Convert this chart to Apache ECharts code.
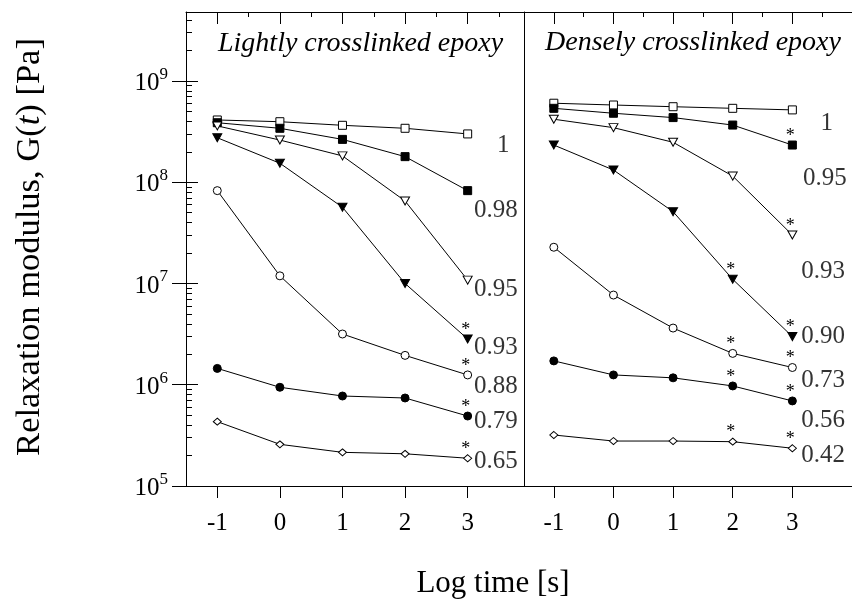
<!DOCTYPE html>
<html><head><meta charset="utf-8">
<script src="https://cdn.jsdelivr.net/npm/echarts@6/dist/echarts.min.js"></script>
<style>html,body{margin:0;padding:0;background:#fff}#c{width:852px;height:602px}</style>
</head><body><div id="c"></div>
<script>
// ---------- data ----------
const logTimes = [-1, 0, 1, 2, 3];
const yTickValues = [1e5, 1e6, 1e7, 1e8, 1e9];
const xTickValues = [-1, 0, 1, 2, 3];

const lightNames = ['1', '0.98', '0.95', '0.93', '0.88', '0.79', '0.65'];
const light_1    = [4.12e8, 3.96e8, 3.65e8, 3.41e8, 3.00e8];
const light_098  = [3.87e8, 3.41e8, 2.65e8, 1.79e8, 8.26e7];
const light_095  = [3.60e8, 2.61e8, 1.82e8, 6.53e7, 1.08e7];
const light_093  = [2.75e8, 1.54e8, 5.66e7, 1.00e7, 2.83e6];
const light_088  = [8.26e7, 1.19e7, 3.17e6, 1.95e6, 1.25e6];
const light_079  = [1.45e6, 9.44e5, 7.74e5, 7.40e5, 4.91e5];
const light_065  = [4.32e5, 2.58e5, 2.15e5, 2.08e5, 1.88e5];
const lightStars = [[], [], [], [4], [4], [4], [4]];

const denseNames = ['1', '0.95', '0.93', '0.90', '0.73', '0.56', '0.42'];
const dense_1    = [6.03e8, 5.79e8, 5.57e8, 5.37e8, 5.18e8];
const dense_095  = [5.37e8, 4.80e8, 4.35e8, 3.67e8, 2.33e8];
const dense_093  = [4.19e8, 3.46e8, 2.48e8, 1.15e8, 3.01e7];
const dense_090  = [2.33e8, 1.32e8, 5.12e7, 1.10e7, 2.99e6];
const dense_073  = [2.28e7, 7.69e6, 3.63e6, 2.04e6, 1.48e6];
const dense_056  = [1.72e6, 1.25e6, 1.17e6, 9.73e5, 6.92e5];
const dense_042  = [3.19e5, 2.78e5, 2.78e5, 2.74e5, 2.36e5];
const denseStars = [[], [4], [4], [3, 4], [3, 4], [3, 4], [3, 4]];

// curve-label anchors (data units)
const lightLabelX = [3.47, 3.1, 3.1, 3.1, 3.1, 3.1, 3.1];
const lightLabelG = [2.30e8, 5.32e7, 8.83e6, 2.31e6, 9.55e5, 4.32e5, 1.74e5];
const denseLabelX = [3.47, 3.18, 3.15, 3.15, 3.15, 3.15, 3.15];
const denseLabelG = [3.82e8, 1.09e8, 1.31e7, 2.99e6, 1.11e6, 4.49e5, 2.02e5];

const lightSeries = [light_1, light_098, light_095, light_093, light_088, light_079, light_065];
const denseSeries = [dense_1, dense_095, dense_093, dense_090, dense_073, dense_056, dense_042];

// ---------- styles ----------
const FONT = "'Liberation Serif', 'Times New Roman', serif";
const symbols = ['rect', 'rect', 'triangle', 'triangle', 'circle', 'circle', 'diamond'];
const filled  = [false, true, false, true, false, true, false];
const rotates = [0, 0, 180, 180, 0, 0, 0];
const sizes   = [8, 8, [9, 8], [9, 8], 8, 8, [8, 7]];

const minorY = [];
for (let e = 5; e <= 9; e++) for (let m = 2; m <= 9; m++) { const v = m * Math.pow(10, e); if (v <= 4.8e9) minorY.push(v); }

function xAxes(grid, max) {
  const base = { gridIndex: grid, type: 'value', min: -1.5, max: max, splitLine: { show: false } };
  return [
    Object.assign({}, base, {
      axisLine: { show: true, onZero: false, lineStyle: { color: '#000', width: 1 } },
      axisTick: { show: true, inside: false, length: 12, customValues: xTickValues, lineStyle: { color: '#000' } },
      axisLabel: { show: true, customValues: xTickValues, margin: 25, color: '#000', fontSize: 25, fontFamily: FONT }
    }),
    Object.assign({}, base, {
      axisLine: { show: false, onZero: false },
      axisTick: { show: true, inside: true, length: 12, customValues: xTickValues, lineStyle: { color: '#000' } },
      axisLabel: { show: false }
    }),
    Object.assign({}, base, {
      axisLine: { show: false, onZero: false },
      axisTick: { show: true, inside: true, length: 5, customValues: [-0.5, 0.5, 1.5, 2.5, 3.5], lineStyle: { color: '#000' } },
      axisLabel: { show: false }
    }),
    Object.assign({}, base, {
      position: 'top',
      axisLine: { show: true, onZero: false, lineStyle: { color: '#000', width: 1 } },
      axisTick: { show: false }, axisLabel: { show: false }
    })
  ];
}

const yBase = (grid) => ({ gridIndex: grid, type: 'log', logBase: 10, min: 1e5, max: 4.8e9, position: 'left', splitLine: { show: false } });
const yAxis = [
  Object.assign(yBase(0), {
    axisLine: { show: true, onZero: false, lineStyle: { color: '#000', width: 1 } },
    axisTick: { show: true, inside: false, length: 14, customValues: yTickValues, lineStyle: { color: '#000' } },
    axisLabel: {
      show: true, customValues: yTickValues, margin: 18, color: '#000',
      formatter: v => '{b|10}{s|' + Math.round(Math.log10(v)) + '}',
      rich: {
        b: { fontSize: 25, fontFamily: FONT, color: '#000', verticalAlign: 'bottom', lineHeight: 30 },
        s: { fontSize: 17, fontFamily: FONT, color: '#000', verticalAlign: 'top', lineHeight: 30 }
      }
    }
  }),
  Object.assign(yBase(0), {
    axisLine: { show: false, onZero: false },
    axisTick: { show: true, inside: true, length: 12, customValues: yTickValues, lineStyle: { color: '#000' } },
    axisLabel: { show: false }
  }),
  Object.assign(yBase(0), {
    axisLine: { show: false, onZero: false },
    axisTick: { show: true, inside: true, length: 6, customValues: minorY, lineStyle: { color: '#000' } },
    axisLabel: { show: false }
  }),
  Object.assign(yBase(1), {
    axisLine: { show: true, onZero: false, lineStyle: { color: '#000', width: 1 } },
    axisTick: { show: false }, axisLabel: { show: false }
  })
];

function buildSeries(list, names, stars, xIdx, yIdx) {
  return list.map((vals, i) => ({
    name: names[i],
    type: 'line',
    xAxisIndex: xIdx, yAxisIndex: yIdx,
    symbol: symbols[i], symbolSize: sizes[i], symbolRotate: rotates[i],
    showAllSymbol: true, silent: true, animation: false,
    lineStyle: { color: '#000', width: 1 },
    itemStyle: { color: filled[i] ? '#000' : '#fff', borderColor: '#000', borderWidth: 1 },
    emphasis: { disabled: true },
    z: 3,
    data: vals.map((g, j) => {
      const item = { value: [logTimes[j], g] };
      if (stars[i].indexOf(j) >= 0) {
        item.label = { show: true, formatter: '*', position: 'inside', offset: [-2, -9],
          fontSize: 18, fontFamily: FONT, color: '#000' };
      }
      return item;
    })
  }));
}

function labelSeries(names, xs, gs, xIdx, yIdx) {
  return {
    type: 'scatter', xAxisIndex: xIdx, yAxisIndex: yIdx, silent: true, animation: false,
    symbol: 'circle', symbolSize: 0, itemStyle: { color: 'rgba(0,0,0,0)' },
    label: { show: true, position: 'right', distance: 0, formatter: p => p.data[2],
      fontSize: 25, fontFamily: FONT, color: '#000' },
    emphasis: { disabled: true },
    data: names.map((n, i) => [xs[i], gs[i], n])
  };
}

const chart = echarts.init(document.getElementById('c'), null, { renderer: 'canvas' });
chart.setOption({
  animation: false,
  backgroundColor: '#fff',
  grid: [
    { left: 186, top: 12, width: 338, height: 474, containLabel: false },
    { left: 524, top: 12, width: 342, height: 474, containLabel: false }
  ],
  xAxis: xAxes(0, 3.9).concat(xAxes(1, 4)),
  yAxis: yAxis,
  series: buildSeries(lightSeries, lightNames, lightStars, 0, 0)
    .concat(buildSeries(denseSeries, denseNames, denseStars, 4, 3))
    .concat([labelSeries(lightNames, lightLabelX, lightLabelG, 0, 0),
             labelSeries(denseNames, denseLabelX, denseLabelG, 4, 3)]),
  graphic: [
    { type: 'text', x: 218, y: 43.5, style: { text: 'Lightly crosslinked epoxy', fontSize: 28, fontStyle: 'italic', fontFamily: FONT, fill: '#000', align: 'left', verticalAlign: 'middle' } },
    { type: 'text', x: 545, y: 43, style: { text: 'Densely crosslinked epoxy', fontSize: 28, fontStyle: 'italic', fontFamily: FONT, fill: '#000', align: 'left', verticalAlign: 'middle' } },
    { type: 'text', x: 30, y: 247, rotation: Math.PI / 2, style: {
        text: '{n|Relaxation modulus, G(}{i|t}{n|) [Pa]}', align: 'center', verticalAlign: 'middle',
        rich: {
          n: { fontSize: 34.5, fontFamily: FONT, fill: '#000' },
          i: { fontSize: 34.5, fontFamily: FONT, fontStyle: 'italic', fill: '#000' }
        } } },
    { type: 'text', x: 493, y: 584, style: { text: 'Log time [s]', fontSize: 31, fontFamily: FONT, fill: '#000', align: 'center', verticalAlign: 'middle' } }
  ]
});
</script></body></html>
